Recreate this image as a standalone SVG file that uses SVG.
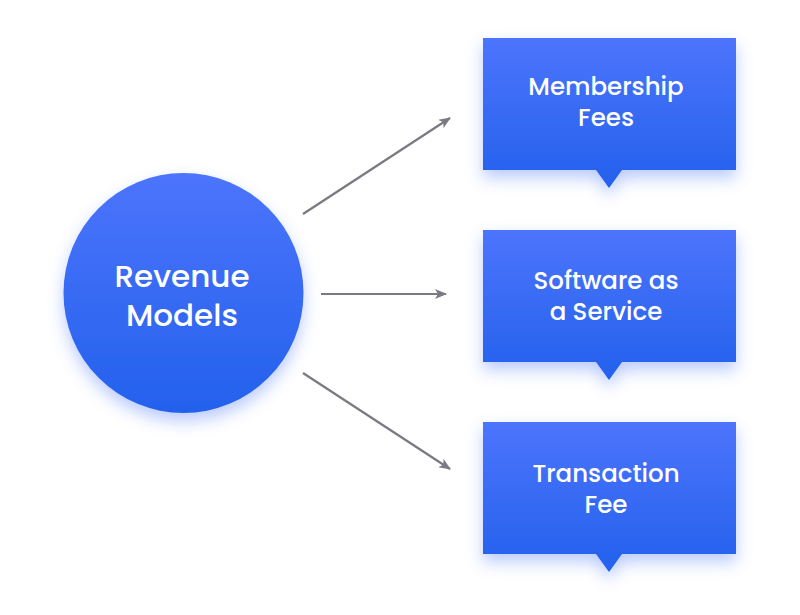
<svg xmlns="http://www.w3.org/2000/svg" width="800" height="615" viewBox="0 0 800 615">
<style>
.lbl{font-family:Poppins,"Noto Sans","Open Sans",sans-serif;font-weight:500;fill:#ffffff;text-anchor:middle}
.big{font-size:31px}
.sm{font-size:24.5px}
.conn line{stroke:#7b7982;stroke-width:2.2;marker-end:url(#ah)}
</style>
<defs>
<linearGradient id="g" x1="0" y1="0" x2="0" y2="1">
<stop offset="0" stop-color="#4c74fc"/>
<stop offset="1" stop-color="#2361ec"/>
</linearGradient>
<filter id="sh" x="-30%" y="-30%" width="160%" height="170%">
<feDropShadow dx="0" dy="8" stdDeviation="8" flood-color="#3d6bf5" flood-opacity="0.35"/>
</filter>
<marker id="ah" viewBox="0 0 12 10" refX="11" refY="5" markerWidth="12" markerHeight="10" markerUnits="userSpaceOnUse" orient="auto">
<path d="M0,0 L12,5 L0,10 L3,5 Z" fill="#7b7982"/>
</marker>
</defs>
<rect width="800" height="615" fill="#ffffff"/>
<g id="connectors" class="conn">
<line x1="303" y1="214" x2="450" y2="118"/>
<line x1="321" y1="294" x2="446" y2="294"/>
<line x1="303" y1="373" x2="450" y2="469"/>
</g>
<g id="revenue-models">
<circle cx="183.5" cy="293" r="120" fill="url(#g)" filter="url(#sh)"/>
<text class="lbl big" x="182" y="287">Revenue</text>
<text class="lbl big" x="182" y="326">Models</text>
</g>
<g id="membership-fees">
<path d="M483,38 H736 V170 H622 L609,188 L596,170 H483 Z" fill="url(#g)" filter="url(#sh)"/>
<text class="lbl sm" x="606" y="95">Membership</text>
<text class="lbl sm" x="606" y="126">Fees</text>
</g>
<g id="software-as-a-service">
<path d="M483,230 H736 V362 H622 L609,380 L596,362 H483 Z" fill="url(#g)" filter="url(#sh)"/>
<text class="lbl sm" x="606" y="289">Software as</text>
<text class="lbl sm" x="606" y="320">a Service</text>
</g>
<g id="transaction-fee">
<path d="M483,422 H736 V554 H622 L609,572 L596,554 H483 Z" fill="url(#g)" filter="url(#sh)"/>
<text class="lbl sm" x="606" y="482">Transaction</text>
<text class="lbl sm" x="606" y="513">Fee</text>
</g>
</svg>
